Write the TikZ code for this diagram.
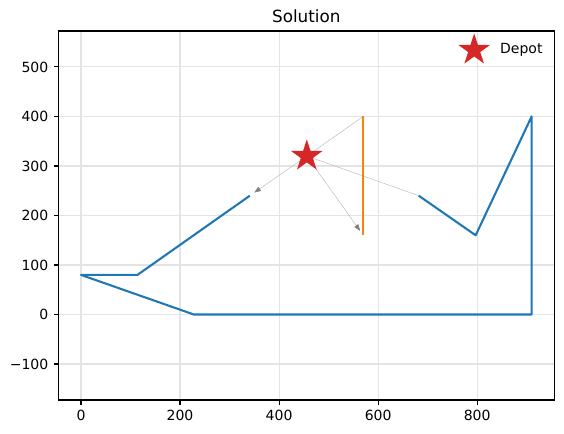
\documentclass[tikz,border=0pt]{standalone}
\usepackage{fontspec}
\setmainfont{DejaVu Sans}
\usetikzlibrary{arrows.meta,shapes.geometric}

\definecolor{tabblue}{HTML}{1F77B4}
\definecolor{taborange}{HTML}{FF7F0E}
\definecolor{tabred}{HTML}{D62728}
\definecolor{gridgray}{HTML}{E4E4E4}

\begin{document}
\begin{tikzpicture}[
    x=0.75pt, y=0.75pt,
    font=\fontsize{10.5}{12}\selectfont,
    route/.style={draw=#1, line width=1.56pt, line join=round},
    route/.default=tabblue,
    link/.style={draw=gray!55, line width=0.35pt, shorten >=4pt,
        -{Triangle[length=5pt, width=3.6pt, color=gray]}},
    back/.style={draw=gray!55, line width=0.35pt},
    depot/.style={star, star points=5, star point ratio=2.618,
        fill=tabred, inner sep=0pt, minimum size=25pt},
    gridline/.style={draw=gridgray, line width=0.83pt},
    ticklabel/.style={inner sep=0pt}
]
    \useasboundingbox (0,0) rectangle (564,434);

    \begin{scope}[shift={(60.75pt,89.6pt)}, x=0.3714pt, y=0.3714pt]

    % Axes corners
    \coordinate (ll) at (-45.5,-172.6);
    \coordinate (ur) at (955.5,572.5);

    % Grid
    \foreach \gx in {0,200,...,800}
        \draw[gridline] (\gx,-172.6) -- (\gx,572.5);
    \foreach \gy in {-100,0,...,500}
        \draw[gridline] (-45.5,\gy) -- (955.5,\gy);

    % Depot and customers coordinates
    \coordinate (depot) at (456, 320);
    \coordinate (b1) at (341, 240);
    \coordinate (b2) at (114, 80);
    \coordinate (b3) at (0, 80);
    \coordinate (b4) at (228, 0);
    \coordinate (b5) at (910, 0);
    \coordinate (b6) at (910, 400);
    \coordinate (b7) at (797, 160);
    \coordinate (b8) at (682, 240);
    \coordinate (o1) at (570, 400);
    \coordinate (o2) at (570, 160);

    % Links to and from the depot
    \draw[link] (depot) -- (b1);
    \draw[back] (b8) -- (depot);
    \draw[link] (depot) -- (o2);
    \draw[back] (o1) -- (depot);

    % Routes
    \draw[route] (b1) -- (b2) -- (b3) -- (b4) -- (b5) -- (b6) -- (b7) -- (b8);
    \draw[route=taborange] (o1) -- (o2);

    % Depot
    \node[depot] (dep) at (depot) {};

    % Axes frame and ticks
    \draw[line width=0.83pt] (ll) rectangle (ur);
    \foreach \tx in {0,200,...,800}
        \draw[line width=0.83pt] (\tx,-172.6) -- ++(0,-3.6pt)
            node[ticklabel, anchor=north, yshift=-3.6pt] {\tx};
    \foreach \ty/\tl in {-100/−100,0/0,100/100,200/200,300/300,400/400,500/500}
        \draw[line width=0.83pt] (-45.5,\ty) -- ++(-3.6pt,0)
            node[ticklabel, anchor=east, xshift=-3.6pt] {\tl};

    % Title
    \node[anchor=base, font=\fontsize{12.6}{14}\selectfont] (title)
        at (455,572.5) [yshift=6.75pt] {Solution};

    % Legend
    \node[depot] (legstar) at (794,534) {};
    \node[anchor=west, inner sep=0pt] (legtext) at (846,534) {Depot};

    \end{scope}
\end{tikzpicture}
\end{document}
